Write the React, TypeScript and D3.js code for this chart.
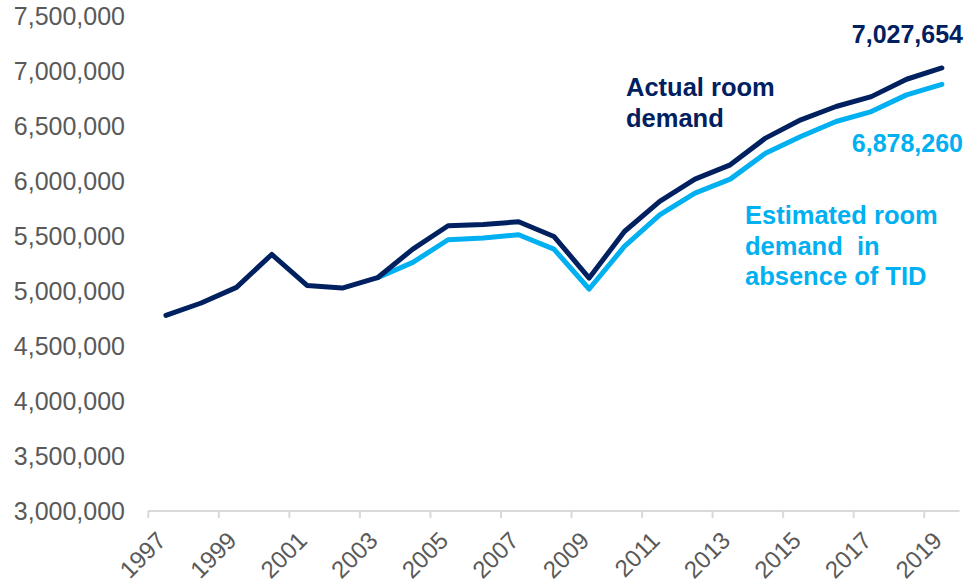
import React from "react";
import * as d3 from "d3";

const years = [1997,1998,1999,2000,2001,2002,2003,2004,2005,2006,2007,2008,2009,2010,2011,2012,2013,2014,2015,2016,2017,2018,2019];
const actualDemand = [4778000,4891000,5033000,5332000,5051000,5027000,5121000,5381000,5593000,5605000,5629000,5496000,5118000,5541000,5814000,6017000,6147000,6390000,6556000,6677000,6767000,6925000,7027654];
const estimatedDemand: (number | null)[] = [null,null,null,null,null,null,5121000,5260000,5466000,5481000,5511000,5381000,5018000,5405000,5693000,5890000,6017000,6253000,6404000,6541000,6631000,6783000,6878260];
const yTicks = [3000000,3500000,4000000,4500000,5000000,5500000,6000000,6500000,7000000,7500000];
const xTickLabels = years.filter((_, i) => i % 2 === 0);

const W = 966, H = 585;
const DARK = "#002060";
const LIGHT = "#00B0F0";
const FONT = "'Liberation Sans', Arial, sans-serif";

export default function App() {
  const x = d3.scaleBand<number>().domain(years).range([148.3, 959.5]).paddingInner(0).paddingOuter(0);
  const y = d3.scaleLinear().domain([3000000, 7500000]).range([511, 16]);
  const cx = (yr: number) => (x(yr) as number) + x.bandwidth() / 2;

  const line = d3.line<[number, number | null]>()
    .defined(d => d[1] != null)
    .x(d => cx(d[0]))
    .y(d => y(d[1] as number));

  const actualPath = line(years.map((yr, i) => [yr, actualDemand[i]])) || "";
  const estPath = line(years.map((yr, i) => [yr, estimatedDemand[i]])) || "";
  const fmt = d3.format(",");
  const boundaries = years.filter((_, i) => i % 2 === 0).map(yr => x(yr) as number);
  const xEnd = 959.5;

  return (
    <svg width={W} height={H} style={{ position: "absolute", left: 0, top: 0, background: "#fff" }} fontFamily={FONT}>
      {yTicks.map(t => (
        <text key={t} x={125} y={y(t)} dy="0.35em" textAnchor="end" fontSize={25} fill="#595959">{fmt(t)}</text>
      ))}
      <line x1={148.3} x2={xEnd} y1={511} y2={511} stroke="#d9d9d9" strokeWidth={2} />
      {boundaries.map((bx, i) => (
        <line key={i} x1={bx} x2={bx} y1={511} y2={518} stroke="#d9d9d9" strokeWidth={2} />
      ))}
      {xTickLabels.map(yr => (
        <text key={yr} transform={`translate(${cx(yr) - 4.4},${536}) rotate(-45)`} textAnchor="end" dy="0.35em" fontSize={24} fill="#595959">{yr}</text>
      ))}
      <path d={estPath} fill="none" stroke={LIGHT} strokeWidth={5} strokeLinejoin="round" strokeLinecap="round" />
      <path d={actualPath} fill="none" stroke={DARK} strokeWidth={5} strokeLinejoin="round" strokeLinecap="round" />

      <text x={963} y={43} textAnchor="end" fontSize={25} fontWeight="bold" fill={DARK}>{fmt(actualDemand[actualDemand.length - 1])}</text>
      <text x={963} y={152} textAnchor="end" fontSize={25} fontWeight="bold" fill={LIGHT}>{fmt(estimatedDemand[estimatedDemand.length - 1] as number)}</text>
      <text fontSize={25.5} fontWeight="bold" fill={DARK}>
        <tspan x={626} y={96}>Actual room</tspan>
        <tspan x={626} y={126.5}>demand</tspan>
      </text>
      <text fontSize={25.5} fontWeight="bold" fill={LIGHT} style={{ whiteSpace: "pre" }}>
        <tspan x={745} y={224}>Estimated room</tspan>
        <tspan x={745} y={254.5}>{"demand  in"}</tspan>
        <tspan x={745} y={285}>absence of TID</tspan>
      </text>
    </svg>
  );
}
